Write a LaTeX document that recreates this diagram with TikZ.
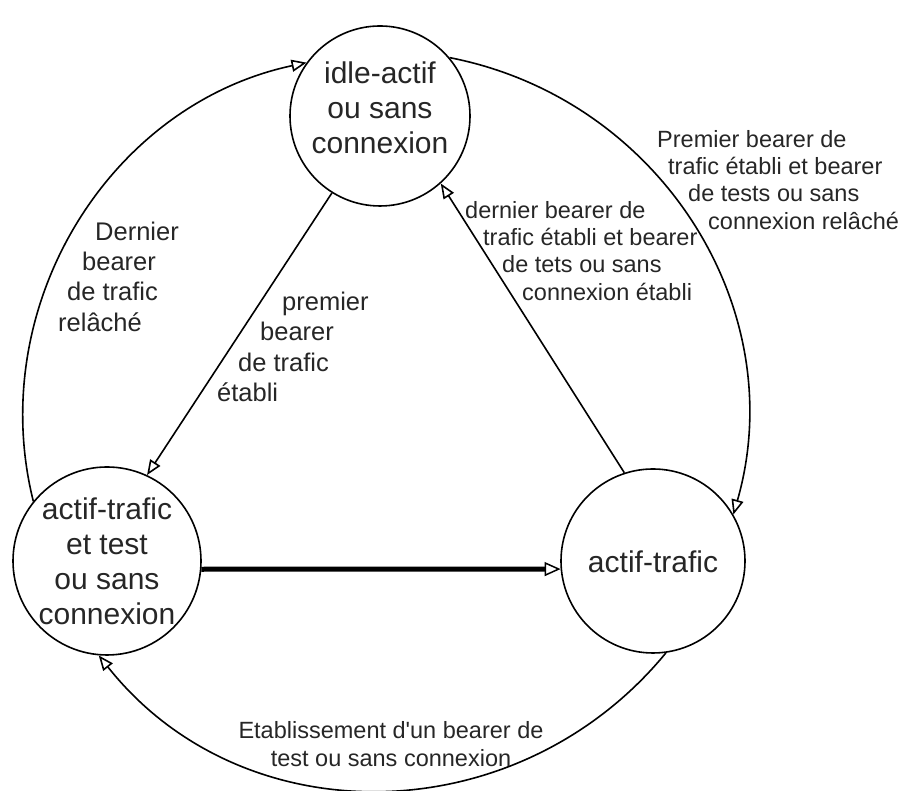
\documentclass[tikz,border=0pt]{standalone}
\usepackage{fontspec}
\setmainfont{Liberation Sans}
\usetikzlibrary{arrows.meta}
\begin{document}
\begin{tikzpicture}[x=1pt,y=1pt,
  state/.style={circle,draw=black,line width=1.6pt,inner sep=0pt},
  stxt/.style={align=center,font=\fontsize{30}{35}\selectfont,text=black!85,inner sep=0pt},
  lab/.style={align=left,inner sep=0pt,anchor=north west,text=black!85},
  smallf/.style={font=\fontsize{23.5}{27.3}\selectfont},
  bigf/.style={font=\fontsize{25.5}{30.3}\selectfont},
  arr/.style={line width=1.6pt,-{Triangle[open,length=15pt,width=12pt]}},
  thickarr/.style={line width=5pt,-{Triangle[open,length=16pt,width=14pt,line width=1.5pt]}},
]
\useasboundingbox (0,0) rectangle (903,791);
% states
\node[state,minimum size=180pt] (top) at (380,675) {};
\node[state,minimum size=188pt] (left) at (107,230) {};
\node[state,minimum size=184pt] (right) at (653,230) {};
\node[stxt] (topT) at (380,683) {idle-actif\\ou sans\\connexion};
\node[stxt] (leftT) at (107,230) {actif-trafic\\et test\\ou sans\\connexion};
\node[stxt] (rightT) at (653,229) {actif-trafic};
% transitions
\draw[arr] (left.141.6) to[out=104,in=192] (top.144);
\draw[arr] (top.40) to[out=-11,in=74,looseness=1.02] (right.30);
\draw[arr] (right.-82) to[out=230.6,in=308.4,looseness=1.05] (left.-95);
\draw[arr] (top.238) -- (left.65);
\draw[arr] (right.108) -- (top.312);
\draw[thickarr] (left.-5.5) -- (right.185.6);
% labels
\node[lab,smallf] (l1) at (657,661) {Premier bearer de\\\hspace*{11pt}trafic établi et bearer\\\hspace*{31pt}de tests ou sans\\\hspace*{51pt}connexion relâché};
\node[lab,smallf] (l2) at (465,590) {dernier bearer de\\\hspace*{18pt}trafic établi et bearer\\\hspace*{37pt}de tets ou sans\\\hspace*{57pt}connexion établi};
\node[lab,bigf] (l3) at (58,569.5) {\hspace*{37pt}Dernier\\\hspace*{24pt}bearer\\\hspace*{9pt}de trafic\\relâché};
\node[lab,bigf] (l4) at (217,499) {\hspace*{65pt}premier\\\hspace*{43pt}bearer\\\hspace*{21pt}de trafic\\établi};
\node[font=\fontsize{23.5}{28.5}\selectfont,align=center,inner sep=0pt,anchor=north,text=black!85] (l5) at (391,70) {Etablissement d\textquotesingle un bearer de\\test ou sans connexion};
\end{tikzpicture}
\end{document}
